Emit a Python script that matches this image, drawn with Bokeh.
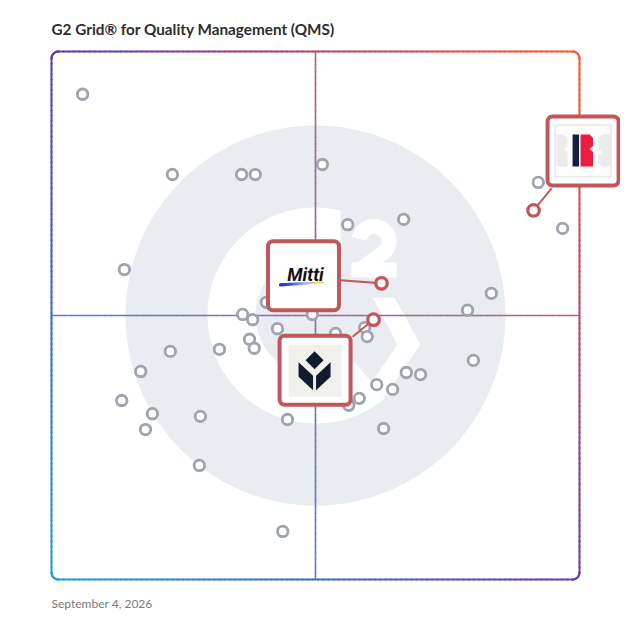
import numpy as np
from bokeh.plotting import figure
from bokeh.models import Range1d, ColumnDataSource, Label
from bokeh.core.properties import value
from bokeh.embed import file_html
from bokeh.resources import INLINE

# ---------------- data ----------------
chart_title = "G2 Grid® for Quality Management (QMS)"
date_text = "September 4, 2026"

# other products: satisfaction (x) and market presence (y), 0-100 grid scale
other_x = [5.9, 22.9, 36.0, 38.6, 51.3, 56.1, 66.7, 13.8, 92.2, 96.8,
           83.3, 78.8, 36.2, 38.1, 42.8, 49.4, 40.7, 59.3, 59.8, 53.8,
           37.5, 38.4, 22.5, 31.8, 16.9, 79.9, 67.2, 69.9, 61.6, 64.6,
           58.3, 56.3, 44.7, 62.9, 19.1, 17.8, 28.2, 13.3, 28.0, 43.8]
other_y = [91.9, 76.7, 76.7, 76.7, 78.6, 67.2, 68.2, 58.7, 75.2, 66.5,
           54.2, 51.0, 50.2, 49.2, 47.5, 50.2, 52.5, 47.7, 46.0, 46.6,
           45.5, 43.8, 43.2, 43.6, 39.4, 41.5, 39.2, 38.8, 36.9, 36.0,
           34.3, 33.0, 30.3, 28.6, 31.4, 28.4, 30.9, 33.9, 21.6, 9.1]

featured_names = ["R", "Mitti", "Tulip"]
featured_x = [91.3, 62.5, 61.0]
featured_y = [69.9, 56.1, 49.2]

# ---------------- layout helpers ----------------
PX = 5.28           # screen pixels per grid unit
GX0, GY0 = 51, 579  # page pixel of grid origin (0,0)
W = 620
RED = "#c1575a"
GRAY = "#9da3af"
WM = "#e9ecf0"


def ox(dx):
    return np.asarray(dx, dtype=float) / PX


def oy(dy):  # dy in screen pixels, downwards positive
    return -np.asarray(dy, dtype=float) / PX


p = figure(width=W, height=W,
           x_range=Range1d((0 - GX0) / PX, (W - GX0) / PX),
           y_range=Range1d((GY0 - W) / PX, (GY0 - 0) / PX),
           output_backend="svg", toolbar_location=None,
           x_axis_location=None, y_axis_location=None,
           min_border=0, outline_line_color=None,
           background_fill_color="white", border_fill_color="white")
p.grid.visible = False

CX, CY = 50.0, 50.0

# ---------------- watermark (G2 logo) ----------------
t = np.linspace(0, 2 * np.pi, 361)
R_DISC = 190
p.patch(CX + ox(R_DISC) * np.cos(t), CY + ox(R_DISC) * np.sin(t),
        fill_color=WM, line_color=None)

r_out, r_in, cut = 108, 60, 25
a0 = np.degrees(np.arccos(cut / r_out))
a1 = np.degrees(np.arccos(cut / r_in))
a_end = 310
ang_o = np.radians(np.linspace(a0, a_end, 200))
ang_i = np.radians(np.linspace(a_end, a1, 200))
gx = np.concatenate([r_out * np.cos(ang_o), r_in * np.cos(ang_i)])
gy = np.concatenate([r_out * np.sin(ang_o), r_in * np.sin(ang_i)])
p.patch(CX + ox(gx), CY + ox(gy), fill_color="white", line_color=None)

chev = np.array([(57, 18), (79, 18), (105, -29), (70, -80), (47, -80), (82, -29)], dtype=float)
p.patch(CX + ox(chev[:, 0]), CY + ox(chev[:, 1]), fill_color="white", line_color=None)

# the "2" (screen-pixel offsets from the logo centre, y downwards)
a2 = np.radians(np.linspace(170, -40, 60))
two_x = list(58.5 + 15 * np.cos(a2)) + [44]
two_y = list(-74 - 15 * np.sin(a2)) + [-45.5]
p.line(CX + ox(two_x), CY + oy(two_y), line_color="white", line_width=15,
       line_join="miter", line_cap="butt")
p.line(CX + ox([36, 81]), CY + oy([-45.5, -45.5]), line_color="white", line_width=15,
       line_cap="butt")

# ---------------- gradient colours ----------------
TL = np.array([90, 60, 178]); TR = np.array([255, 90, 47])
BL = np.array([38, 155, 218]); BR = np.array([112, 60, 165])


def grad(u, v, light=0.0):
    c = TL * (1 - u) * v + TR * u * v + BL * (1 - u) * (1 - v) + BR * u * (1 - v)
    c = c * (1 - light) + 255 * light
    return "#%02x%02x%02x" % tuple(int(round(k)) for k in c)


def grad_segments(xs, ys, width, light=0.0):
    x0, x1 = xs[:-1], xs[1:]
    y0, y1 = ys[:-1], ys[1:]
    cols = [grad(((a + b) / 2) / 100, ((c + d) / 2) / 100, light)
            for a, b, c, d in zip(x0, x1, y0, y1)]
    src = ColumnDataSource(dict(x0=x0, y0=y0, x1=x1, y1=y1, c=cols))
    p.segment("x0", "y0", "x1", "y1", source=src, line_color="c", line_width=width,
              line_cap="round")


# crosshair
n = np.linspace(0, 100, 81)
grad_segments(np.full_like(n, CX), n, 1.6, 0.12)
grad_segments(n, np.full_like(n, CY), 1.6, 0.12)

# rounded border
rr = 7 / PX
pts = []


def arc(cx, cy, s, e):
    a = np.radians(np.linspace(s, e, 12))
    return list(zip(cx + rr * np.cos(a), cy + rr * np.sin(a)))


edge = np.linspace(rr, 100 - rr, 100)
pts += list(zip(edge, np.full_like(edge, 100)))
pts += arc(100 - rr, 100 - rr, 90, 0)
pts += list(zip(np.full_like(edge, 100), edge[::-1]))
pts += arc(100 - rr, rr, 0, -90)
pts += list(zip(edge[::-1], np.full_like(edge, 0)))
pts += arc(rr, rr, -90, -180)
pts += list(zip(np.full_like(edge, 0), edge))
pts += arc(rr, 100 - rr, 180, 90)
pts.append(pts[0])
pts = np.array(pts)
grad_segments(pts[:, 0], pts[:, 1], 2.0)

# ---------------- other products ----------------
p.scatter(other_x, other_y, size=10.5, fill_color="white", line_color=GRAY, line_width=2.8)

# ---------------- callouts ----------------
box_dx = [49.5, -78, -58.5]     # box centre offset from point (px)
box_dy = [-59.5, -7.5, 50.5]
link_dx = [18, -41, -21]        # connector end offset from point (px)
link_dy = [-22, -3, 17]

bx = [fx + float(ox(dx)) for fx, dx in zip(featured_x, box_dx)]
by = [fy + float(oy(dy)) for fy, dy in zip(featured_y, box_dy)]

p.segment(featured_x, featured_y,
          [fx + float(ox(dx)) for fx, dx in zip(featured_x, link_dx)],
          [fy + float(oy(dy)) for fy, dy in zip(featured_y, link_dy)],
          line_color=RED, line_width=2)

p.rect(bx, by, width=71, height=69, width_units="screen", height_units="screen",
       fill_color="white", line_color=RED, line_width=4, border_radius=5)


def poly(cx, cy, pts_px, color):
    a = np.array(pts_px, dtype=float)
    p.patch(cx + ox(a[:, 0]), cy + oy(a[:, 1]), fill_color=color, line_color=None)


# R logo
rx, ry = bx[0], by[0]
p.rect([rx], [ry], width=56, height=52, width_units="screen", height_units="screen",
       fill_color="#fcfcfc", line_color="#dddddd", line_width=1)
poly(rx, ry, [(-26.5, -16.5), (-19, -16.5), (-15.5, -13), (-15.5, -5), (-19, -2),
              (-15.5, 1), (-15.5, 15.5), (-26.5, 15.5)], "#ebebeb")
poly(rx, ry, [(19, -16.5), (27, -16.5), (27, 15.5), (19, 15.5), (15.5, 12), (15.5, 4),
              (19, 1), (15.5, -2), (15.5, -13)], "#ebebeb")
poly(rx, ry, [(-10.5, -16.5), (-4, -16.5), (-4, 15.5), (-10.5, 15.5)], "#15213b")
poly(rx, ry, [(-2.5, -16.5), (6.5, -16.5), (10, -13), (10, -5), (6.5, -2), (10, 1),
              (10, 15.5), (-2.5, 15.5)], "#ee1b3f")

# Mitti logo
mx, my = bx[1], by[1]
p.text(x=[mx + float(ox(2))], y=[my + float(oy(-1.5))], text=["Mitti"], text_color="#111111",
       text_font=value("Roboto"), text_font_style="bold italic", text_font_size="18px",
       text_align="center", text_baseline="middle")
ux = np.linspace(-23, 20, 15)
uy = np.linspace(9, 6.5, 15)
ucols = ["#2e2bbf", "#3136c9", "#3643d3", "#3d55dc", "#4a68e2", "#5c7ce6", "#7390e8",
         "#8ea0e6", "#aaaedf", "#c5b8c9", "#dcc1a0", "#ebc77a", "#f3cb5c", "#f6cd48"]
uw = list(np.linspace(3.2, 1.6, 14))
p.segment(mx + ox(ux[:-1]), my + oy(uy[:-1]), mx + ox(ux[1:]), my + oy(uy[1:]),
          line_color=ucols, line_width=uw, line_cap="round")

# Tulip logo
tx, ty = bx[2], by[2]
p.rect([tx], [ty + float(oy(0.5))], width=53, height=52, width_units="screen",
       height_units="screen", fill_color="#f0f0ec", line_color=None)
NAVY = "#121b2c"
poly(tx, ty, [(-0.5, -19), (8.5, -10), (-0.5, -1), (-9.5, -10)], NAVY)
poly(tx, ty, [(-16.5, -8), (-2, 5.5), (-2, 20), (-16.5, 6.5)], NAVY)
poly(tx, ty, [(1, 5.5), (15.5, -8), (15.5, 6.5), (1, 20)], NAVY)

# featured points
p.scatter(featured_x, featured_y, size=11.5, fill_color="white", line_color=RED, line_width=3.3)

# ---------------- texts ----------------
p.add_layout(Label(x=0, y=(GY0 - 28.7) / PX, text=chart_title, text_font="Lato",
                   text_font_style="bold", text_font_size="15.3px", text_color="#2d2d2d",
                   text_baseline="middle"))
p.add_layout(Label(x=0, y=(GY0 - 602.5) / PX, text=date_text, text_font="Lato",
                   text_font_size="12px", text_color="#7a7a7a", text_baseline="middle"))

open("out.html", "w").write(file_html(p, INLINE))
